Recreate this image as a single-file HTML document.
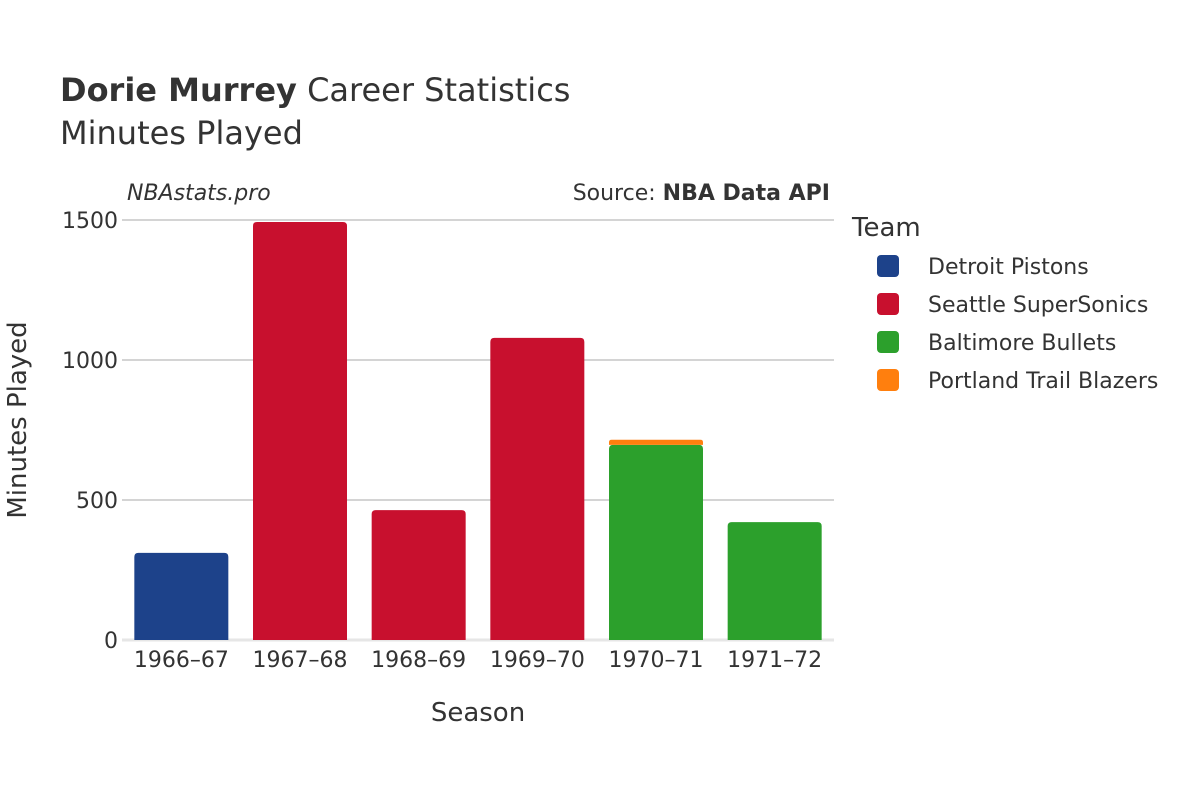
<!DOCTYPE html>
<html><head><meta charset="utf-8">
<style>
body{margin:0;background:#fff;}
svg{display:block;font-family:"DejaVu Sans","Liberation Sans",sans-serif;}
</style></head>
<body>
<svg id="chart" width="1200" height="800" viewBox="0 0 1200 800">
<rect width="1200" height="800" fill="#fff"/>
<text x="60" y="101" font-size="32" fill="#333"><tspan font-weight="bold">Dorie Murrey</tspan> Career Statistics</text>
<text x="60" y="144" font-size="32" fill="#333">Minutes Played</text>
<text x="127" y="200" font-size="22" font-style="italic" fill="#333">NBAstats.pro</text>
<text x="830" y="200" font-size="22" fill="#333" text-anchor="end">Source: <tspan font-weight="bold">NBA Data API</tspan></text>
<g id="grid"></g>
<g id="bars"></g>
<g id="xticks"></g>
<text x="478" y="721" font-size="26" fill="#333" text-anchor="middle">Season</text>
<text transform="translate(26,420) rotate(-90)" font-size="26" fill="#333" text-anchor="middle">Minutes Played</text>
<text x="852" y="236" font-size="26" fill="#333">Team</text>
<g id="legend"></g>
</svg>
<script>
const seasons=["1966–67","1967–68","1968–69","1969–70","1970–71","1971–72"];
const teams=["Detroit Pistons","Seattle SuperSonics","Baltimore Bullets","Portland Trail Blazers"];
const teamColors=["#1d428a","#c8102e","#2ca02c","#ff7f0e"];
const detroit=[311,0,0,0,0,0];
const seattle=[0,1493,464,1079,0,0];
const baltimore=[0,0,0,0,697,421];
const portland=[0,0,0,0,18,0];
const yTicks=[0,500,1000,1500];
const series=[detroit,seattle,baltimore,portland];
const NS="http://www.w3.org/2000/svg";
const x0=122,x1=834,y0=640,yTop=220,yMax=1500;
const band=(x1-x0)/seasons.length;
const y=v=>y0-(v/yMax)*(y0-yTop);
const xc=i=>x0+band*(i+0.5);
const grid=document.getElementById('grid');
yTicks.forEach(t=>{
  const l=document.createElementNS(NS,'line');
  l.setAttribute('x1',x0);l.setAttribute('x2',x1);l.setAttribute('y1',y(t));l.setAttribute('y2',y(t));
  l.setAttribute('stroke',t===0?'#e6e6e6':'#aaa');l.setAttribute('stroke-width',t===0?3:1);
  
  
  grid.appendChild(l);
  const tx=document.createElementNS(NS,'text');
  tx.setAttribute('x',x0-4);tx.setAttribute('y',y(t)+8);tx.setAttribute('text-anchor','end');
  tx.setAttribute('font-size','22');tx.setAttribute('fill','#333');tx.textContent=t;
  
  
  grid.appendChild(tx);
});
const bars=document.getElementById('bars');
const bw=94;
seasons.forEach((s,i)=>{
  let base=0;
  series.forEach((ser,k)=>{
    const v=ser[i]; if(!v) return;
    const top=y(base+v),bot=y(base);
    const p=document.createElementNS(NS,'path');
    const l=xc(i)-bw/2,r=xc(i)+bw/2,rad=Math.min(4,(bot-top)/2);
    p.setAttribute('d',`M${l},${bot} L${l},${top+rad} Q${l},${top} ${l+rad},${top} L${r-rad},${top} Q${r},${top} ${r},${top+rad} L${r},${bot} Z`);
    p.setAttribute('fill',teamColors[k]);
    
    
    bars.appendChild(p);
    base+=v;
  });
  const tx=document.createElementNS(NS,'text');
  tx.setAttribute('x',xc(i));tx.setAttribute('y',667);tx.setAttribute('text-anchor','middle');
  tx.setAttribute('font-size','22');tx.setAttribute('fill','#333');tx.textContent=s;
  
  
  document.getElementById('xticks').appendChild(tx);
});
const lg=document.getElementById('legend');
teams.forEach((t,k)=>{
  const yy=266+k*38;
  const r=document.createElementNS(NS,'rect');
  r.setAttribute('x',877);r.setAttribute('y',yy-11);r.setAttribute('width',22);r.setAttribute('height',22);
  r.setAttribute('rx',4);r.setAttribute('fill',teamColors[k]);
  
  
  lg.appendChild(r);
  const tx=document.createElementNS(NS,'text');
  tx.setAttribute('x',928);tx.setAttribute('y',yy+8);tx.setAttribute('font-size','22');tx.setAttribute('fill','#333');
  tx.textContent=t;
  
  
  lg.appendChild(tx);
});
</script>
</body></html>
